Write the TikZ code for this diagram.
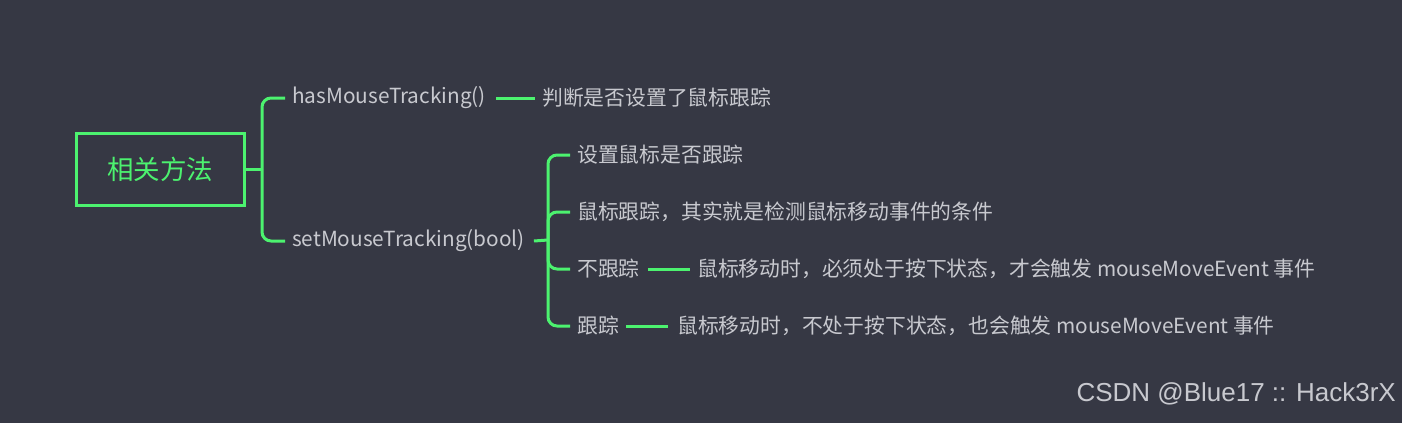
\documentclass[tikz,border=0pt]{standalone}
\usepackage{fontspec}
\setmainfont{Noto Sans CJK SC}
\newfontfamily\wmfont{Liberation Sans}
\definecolor{bg}{HTML}{363844}
\definecolor{gr}{HTML}{4CF26F}
\definecolor{tx}{HTML}{C8C9CF}
\begin{document}
\begin{tikzpicture}[x=1pt,y=-1pt,
  lbl/.style={anchor=west,inner sep=0pt,text=tx,font=\fontsize{20.8}{24}\selectfont},
  conn/.style={draw=gr,line width=3pt,rounded corners=9pt}]
\fill[bg] (0,0) rectangle (1402,423);
\useasboundingbox (0,0) rectangle (1402,423);
\node[draw=gr,line width=3pt,minimum width=168pt,minimum height=72pt,inner sep=0pt,text=gr,font=\fontsize{26.5}{30}\selectfont] (root) at (160,169) {相关方法};
\coordinate (j0) at (262,169);
\node[lbl] (has) at (292,98) {hasMouseTracking()};
\node[lbl] (set) at (292,241) {setMouseTracking(bool)};
\node[lbl] (hasd) at (542,98) {判断是否设置了鼠标跟踪};
\coordinate (j1) at (548,240);
\node[lbl] (s1) at (577,155) {设置鼠标是否跟踪};
\node[lbl] (s2) at (577,212) {鼠标跟踪，其实就是检测鼠标移动事件的条件};
\node[lbl] (s3) at (577,269) {不跟踪};
\node[lbl] (s4) at (577,326) {跟踪};
\node[lbl] (s3d) at (697,269) {鼠标移动时，必须处于按下状态，才会触发 mouseMoveEvent 事件};
\node[lbl] (s4d) at (677,326) {鼠标移动时，不处于按下状态，也会触发 mouseMoveEvent 事件};
\node[anchor=east,inner sep=0pt,text=tx,font=\wmfont\fontsize{26}{30}\selectfont] (wm) at (1396,394) {CSDN @Blue17 :: Hack3rX};
\draw[conn] (root.east) -- (j0);
\draw[conn] (j0) |- ([xshift=-7pt]has.west);
\draw[conn] (j0) |- ([xshift=-7pt]set.west);
\draw[conn] ([xshift=10pt]has.east) -- ([xshift=-7pt]hasd.west);
\draw[conn] ([xshift=9pt]set.east) -- (j1);
\draw[conn] (j1) |- ([xshift=-7pt]s1.west);
\draw[conn] (j1) |- ([xshift=-7pt]s2.west);
\draw[conn] (j1) |- ([xshift=-7pt]s3.west);
\draw[conn] (j1) |- ([xshift=-7pt]s4.west);
\draw[conn] ([xshift=8pt]s3.east) -- ([xshift=-7pt]s3d.west);
\draw[conn] ([xshift=7pt]s4.east) -- ([xshift=-9pt]s4d.west);
\end{tikzpicture}
\end{document}
